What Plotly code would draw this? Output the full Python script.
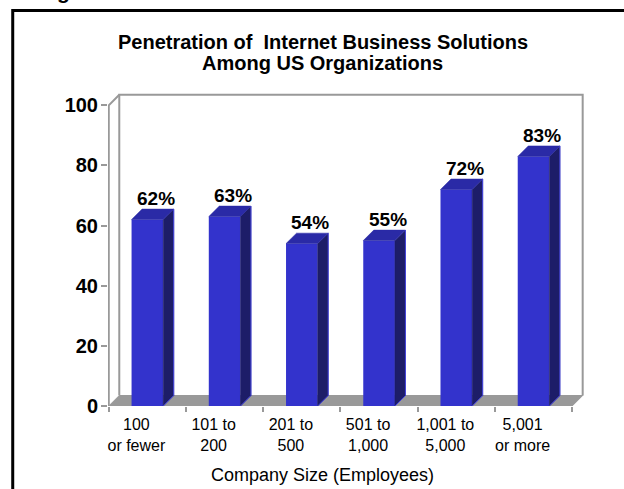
import plotly.graph_objects as go

# ---------------- data ----------------
categories = ["100<br>or fewer", "101 to<br>200", "201 to<br>500",
              "501 to<br>1,000", "1,001 to<br>5,000", "5,001<br>or more"]
values = [62, 63, 54, 55, 72, 83]
y_ticks = [0, 20, 40, 60, 80, 100]
title_lines = ["Penetration of\u00a0 Internet Business Solutions", "Among US Organizations"]
x_title = "Company Size (Employees)"

# ---------------- style / geometry ----------------
FONT = "Liberation Sans, Arial, Helvetica, sans-serif"
FRONT = "#3333CC"
SIDE = "#1D1D68"
TOP = "#2A2AA6"
EDGE = "#4343E0"
GRAY = "#999999"

FIG_W, FIG_H = 624, 489
PX_PER_CAT = 77.2      # horizontal pixels per category
PX_PER_UNIT = 3.01     # vertical pixels per value unit
DEPTH_PX = 10.5        # 3-D depth offset (pixels)
DX = DEPTH_PX / PX_PER_CAT
DY = DEPTH_PX / PX_PER_UNIT
BAR_W = 0.41

n = len(categories)
x0, x1 = -0.5, n - 0.5
ymax = y_ticks[-1]
xr = [x0 - 0.01, x1 + DX + 0.03]
yr = [0, ymax + DY + 0.6]

AXIS_LEFT_PX = 109
AXIS_BOTTOM_PX = 406
plot_w = PX_PER_CAT * (xr[1] - xr[0])
plot_h = PX_PER_UNIT * (yr[1] - yr[0])
m_l = AXIS_LEFT_PX - PX_PER_CAT * (x0 - xr[0])
m_b = FIG_H - AXIS_BOTTOM_PX
m_t = AXIS_BOTTOM_PX - plot_h
m_r = FIG_W - m_l - plot_w


def pxx(p):
    return (p - m_l) / plot_w


def pxy(p):
    return 1 - (p - m_t) / plot_h


fig = go.Figure()

# front faces
fig.add_trace(go.Bar(
    x=list(range(n)), y=values, width=BAR_W,
    marker=dict(color=FRONT, line=dict(width=0)),
    hoverinfo="skip", showlegend=False,
))

shapes = []
# frame (black, page decoration)
shapes.append(dict(type="path", xref="paper", yref="paper",
                   path=f"M {pxx(13)},{pxy(560)} L {pxx(13)},{pxy(10)} L {pxx(700)},{pxy(10)}",
                   line=dict(color="black", width=3)))
# back wall
shapes.append(dict(type="path", xref="x", yref="y", layer="below",
                   path=f"M {x0+DX},{DY} L {x0+DX},{ymax+DY} L {x1+DX},{ymax+DY} L {x1+DX},{DY}",
                   line=dict(color=GRAY, width=2)))
# left wall edge (y axis line + top diagonal)
shapes.append(dict(type="path", xref="x", yref="y", layer="below",
                   path=f"M {x0},0 L {x0},{ymax} L {x0+DX},{ymax+DY}",
                   line=dict(color=GRAY, width=2)))
# floor
shapes.append(dict(type="path", xref="x", yref="y", layer="below",
                   path=f"M {x0},0 L {x1},0 L {x1+DX},{DY} L {x0+DX},{DY} Z",
                   fillcolor=GRAY, line=dict(color=GRAY, width=1)))

# bar side and top faces
for i, v in enumerate(values):
    l, r = i - BAR_W / 2, i + BAR_W / 2
    shapes.append(dict(type="path", xref="x", yref="y",
                       path=f"M {r},0 L {r+DX},{DY} L {r+DX},{v+DY} L {r},{v} Z",
                       fillcolor=SIDE, line=dict(color=SIDE, width=0.5)))
    shapes.append(dict(type="path", xref="x", yref="y",
                       path=f"M {l},{v} L {r},{v} L {r+DX},{v+DY} L {l+DX},{v+DY} Z",
                       fillcolor=TOP, line=dict(color=TOP, width=0.5)))
    shapes.append(dict(type="path", xref="x", yref="y",
                       path=f"M {r},0 L {r+DX},{DY} L {r+DX},{v+DY}",
                       line=dict(color=EDGE, width=1)))

annotations = []
# value labels
for i, v in enumerate(values):
    annotations.append(dict(x=i + DX * 0.8, y=v + DY, xref="x", yref="y",
                            text=f"{v}%", showarrow=False, yanchor="bottom",
                            yshift=-2,
                            font=dict(family=FONT, size=19, color="black", weight="bold")))
# title lines
for k, (line, py) in enumerate(zip(title_lines, [41.5, 62.5])):
    annotations.append(dict(x=pxx(323), y=pxy(py), xref="paper", yref="paper",
                            text=line, showarrow=False, xanchor="center", yanchor="middle",
                            font=dict(family=FONT, size=20, color="black", weight="bold")))
# x axis title
annotations.append(dict(x=pxx(322.5), y=pxy(475), xref="paper", yref="paper",
                        text=x_title, showarrow=False, xanchor="center", yanchor="middle",
                        font=dict(family=FONT, size=18, color="black")))
# clipped heading fragment at top-left of the page
annotations.append(dict(x=pxx(63.5), y=pxy(5), xref="paper", yref="paper",
                        text="g", showarrow=False, xanchor="center", yanchor="bottom",
                        font=dict(family=FONT, size=21, color="black", weight="bold")))

fig.update_layout(
    width=FIG_W, height=FIG_H,
    margin=dict(l=m_l, r=m_r, t=m_t, b=m_b, pad=0),
    paper_bgcolor="white", plot_bgcolor="white",
    showlegend=False,
    shapes=shapes, annotations=annotations,
    xaxis=dict(
        range=xr, showgrid=False, zeroline=False, showline=False,
        tickmode="array", tickvals=list(range(n)), ticktext=categories,
        ticks="", ticklabelshift=-11, ticklabelstandoff=7,
        tickfont=dict(family=FONT, size=16, color="black"),
        minor=dict(tickmode="array", tickvals=[x0 + k for k in range(n + 1)],
                   ticks="outside", ticklen=5, tickcolor=GRAY, tickwidth=2, showgrid=False),
        automargin=False, fixedrange=True,
    ),
    yaxis=dict(
        range=yr, showgrid=False, zeroline=False, showline=False,
        tickmode="array", tickvals=y_ticks,
        ticks="outside", ticklen=6, tickcolor=GRAY, tickwidth=2,
        ticklabelstandoff=-1,
        tickfont=dict(family=FONT, size=20, color="black", weight="bold"),
        automargin=False, fixedrange=True,
    ),
)

fig.write_html("out.html")
